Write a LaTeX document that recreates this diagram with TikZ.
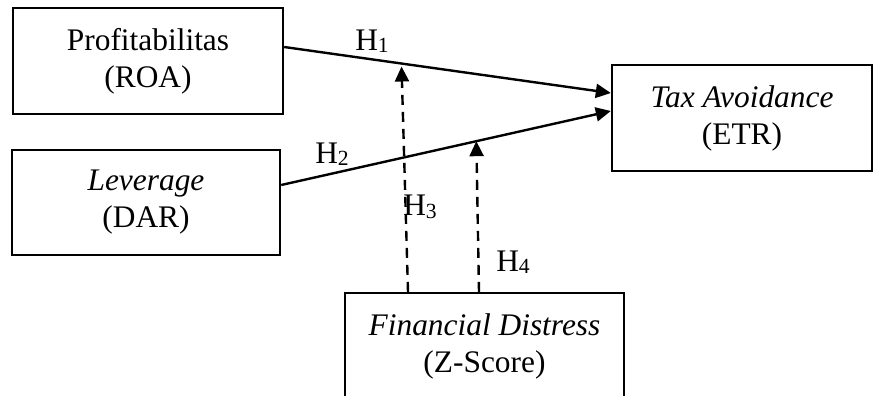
\documentclass[tikz,border=0pt]{standalone}
\usepackage{fontspec}
\setmainfont{Liberation Serif}
\usetikzlibrary{arrows.meta}
\newcommand\hlab[1]{H\raisebox{-1.2pt}{\fontsize{10.8}{12}\selectfont #1}}

\begin{document}
\begin{tikzpicture}[
  x=0.5pt,y=-0.5pt,
  box/.style={draw,line width=1.2pt,align=center,inner sep=0pt,
              font=\fontsize{15.7}{18.5}\selectfont},
  lbl/.style={inner sep=0pt,font=\fontsize{15.7}{18.5}\selectfont},
  arr/.style={-{Triangle[length=7.5pt,width=7pt]},line width=1.2pt},
  darr/.style={arr,dash pattern=on 5pt off 3.5pt}
]
\useasboundingbox (0,0) rectangle (873,396);
\node[box,minimum width=135pt,minimum height=53pt] (roa) at (148,61) {Profitabilitas\\(ROA)};
\node[box,minimum width=134pt,minimum height=52.5pt] (dar) at (146,202.5) {\textit{Leverage}\\(DAR)};
\node[box,minimum width=130pt,minimum height=53pt] (etr) at (742,118) {\textit{Tax Avoidance}\\(ETR)};
\node[box,minimum width=139.5pt,minimum height=53pt] (zs) at (484.5,346) {\textit{Financial Distress}\\(Z-Score)};
% direct effects
\draw[arr] ([yshift=7pt]roa.east) -- coordinate[pos=0.359] (m1) ([yshift=12.5pt]etr.west);
\draw[arr] ([yshift=8.75pt]dar.east) -- coordinate[pos=0.592] (m2) ([yshift=3.5pt]etr.west);
% moderation
\draw[darr,shorten >=1.5pt] ([xshift=-38.25pt]zs.north) -- (m1);
\draw[darr] ([xshift=-2.75pt]zs.north) -- (m2);
\node[lbl] (h1) at (372,41) {\hlab{1}};
\node[lbl] (h2) at (332,154) {\hlab{2}};
\node[lbl] (h3) at (420,207) {\hlab{3}};
\node[lbl] (h4) at (513,262) {\hlab{4}};
\end{tikzpicture}
\end{document}
